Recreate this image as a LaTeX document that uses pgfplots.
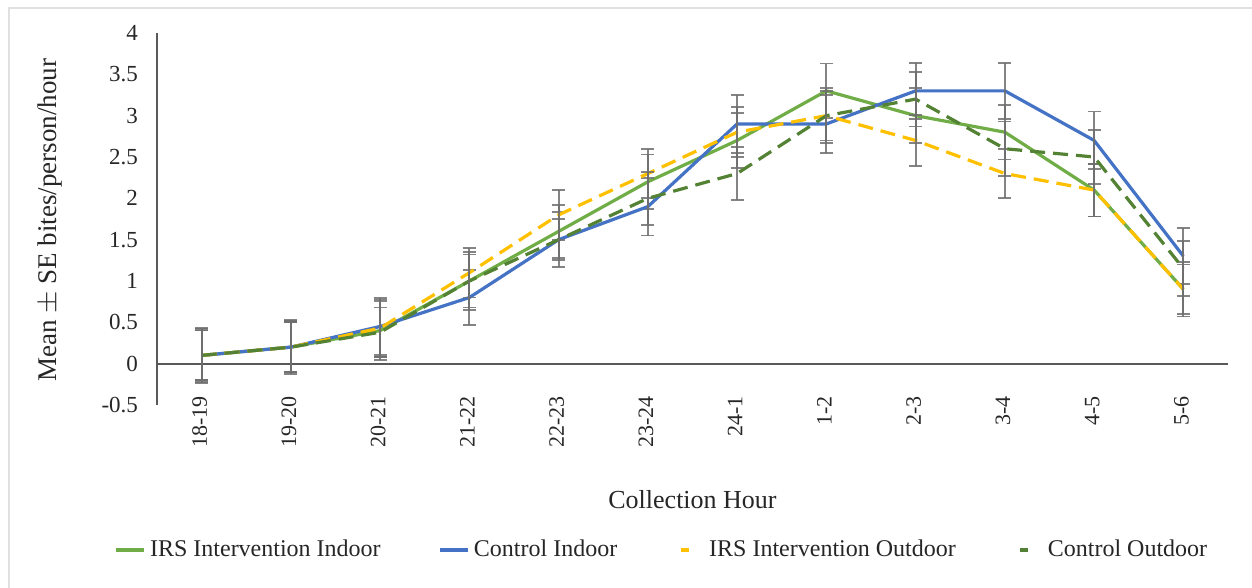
\documentclass[border=0pt]{standalone}
\usepackage{fontspec}
\setmainfont{Liberation Serif}
\usepackage{pgfplots}
\usepackage{pgfplotstable}
\pgfplotsset{compat=1.18}
\definecolor{cgreen}{HTML}{70AD47}
\definecolor{cblue}{HTML}{4472C4}
\definecolor{cyellow}{HTML}{FFC000}
\definecolor{cdkgreen}{HTML}{548235}
\definecolor{errgray}{HTML}{6E6E6E}
\pgfplotsset{dashlegend/.style={legend image code/.code={\path[draw=none] (0pt,0pt) -- (15pt,0pt); \draw[##1, solid] (3pt,0pt) -- (7pt,0pt);}}}

\pgfplotstableread{
x y e
0 0.10 0.32
1 0.20 0.32
2 0.40 0.36
3 1.00 0.35
4 1.60 0.32
5 2.20 0.33
6 2.70 0.33
7 3.30 0.33
8 3.00 0.33
9 2.80 0.33
10 2.10 0.32
11 0.90 0.33
}\irsin
\pgfplotstableread{
x y e
0 0.10 0.33
1 0.20 0.33
2 0.45 0.35
3 0.80 0.33
4 1.50 0.33
5 1.90 0.35
6 2.90 0.35
7 2.90 0.35
8 3.30 0.34
9 3.30 0.34
10 2.70 0.35
11 1.30 0.34
}\ctrlin
\pgfplotstableread{
x y e
0 0.10 0.30
1 0.20 0.30
2 0.43 0.35
3 1.10 0.30
4 1.80 0.30
5 2.30 0.30
6 2.80 0.30
7 3.00 0.30
8 2.70 0.31
9 2.30 0.30
10 2.10 0.32
11 0.90 0.30
}\irsout
\pgfplotstableread{
x y e
0 0.10 0.30
1 0.20 0.30
2 0.38 0.30
3 1.00 0.32
4 1.50 0.25
5 2.00 0.32
6 2.30 0.32
7 3.00 0.33
8 3.20 0.33
9 2.60 0.33
10 2.50 0.33
11 1.15 0.33
}\ctrlout

\begin{document}
\fontsize{11.5}{13}\selectfont
\begin{tikzpicture}
\path[use as bounding box] (-78.5pt,-91.5pt) rectangle (547.5pt,202.5pt);
\draw[black!12, line width=1pt] (-74pt,-91.5pt) -- (-74pt,198.5pt) -- (547.5pt,198.5pt);
\begin{axis}[
  at={(0,0)}, anchor=south west,
  scale only axis, width=535.5pt, height=186pt,
  xmin=-0.5, xmax=11.5, ymin=-0.5, ymax=4,
  xtick={0,...,11},
  xticklabels={18-19,19-20,20-21,21-22,22-23,23-24,24-1,1-2,2-3,3-4,4-5,5-6},
  ytick={-0.5,0,0.5,1,1.5,2,2.5,3,3.5,4},
  yticklabels={-0.5,0,0.5,1,1.5,2,2.5,3,3.5,4},
  axis y line*=left, axis x line*=bottom,
  x axis line style={draw=none},
  axis line style={-, black!65, line width=1pt},
  major tick length=0pt,
  extra y ticks={0}, extra y tick labels={},
  extra y tick style={grid=major, major grid style={black!65, line width=1pt}},
  tick label style={font=\fontsize{11.5}{13}\selectfont, text=black!85},
  yticklabel style={xshift=-5.5pt},
  xticklabel style={rotate=90, anchor=east, xshift=8.5pt, yshift=1pt, font=\fontsize{11}{13}\selectfont},
  xlabel={Collection Hour},
  xlabel style={at={(axis description cs:0.5,0)}, anchor=center, yshift=-47.5pt, font=\fontsize{13}{15}\selectfont, text=black!85},
  ylabel={Mean $\pm$ SE bites/person/hour},
  ylabel style={at={(axis description cs:-0.1,0.497)}, anchor=center, font=\fontsize{13.5}{15}\selectfont, text=black!85},
  legend columns=4,
  legend style={at={(axis description cs:0.4725,0)}, anchor=center, yshift=-72.5pt, draw=none, fill=none,
    font=\fontsize{12}{14}\selectfont, text=black!85,
    /tikz/every even column/.append style={column sep=27pt}},
  legend image code/.code={\draw[#1] (0pt,0pt) -- (14pt,0pt);},
  error bars/y dir=both, error bars/y explicit,
  error bars/error bar style={errgray, line width=0.9pt, solid, opacity=0.85},
  error bars/error mark options={rotate=90, mark size=3.3pt, errgray, line width=0.9pt, solid, opacity=0.85},
]
\addplot[cgreen, line width=1.6pt, no markers] table[x=x, y=y, y error=e] {\irsin};
\addlegendentry{IRS Intervention Indoor}
\addplot[cblue, line width=1.6pt, no markers] table[x=x, y=y, y error=e] {\ctrlin};
\addlegendentry{Control Indoor}
\addplot[cyellow, line width=1.6pt, dash pattern=on 7.5pt off 4pt, no markers, dashlegend] table[x=x, y=y, y error=e] {\irsout};
\addlegendentry{IRS Intervention Outdoor}
\addplot[cdkgreen, line width=1.6pt, dash pattern=on 7.5pt off 4pt, no markers, dashlegend] table[x=x, y=y, y error=e] {\ctrlout};
\addlegendentry{Control Outdoor}
\end{axis}
\end{tikzpicture}
\end{document}
